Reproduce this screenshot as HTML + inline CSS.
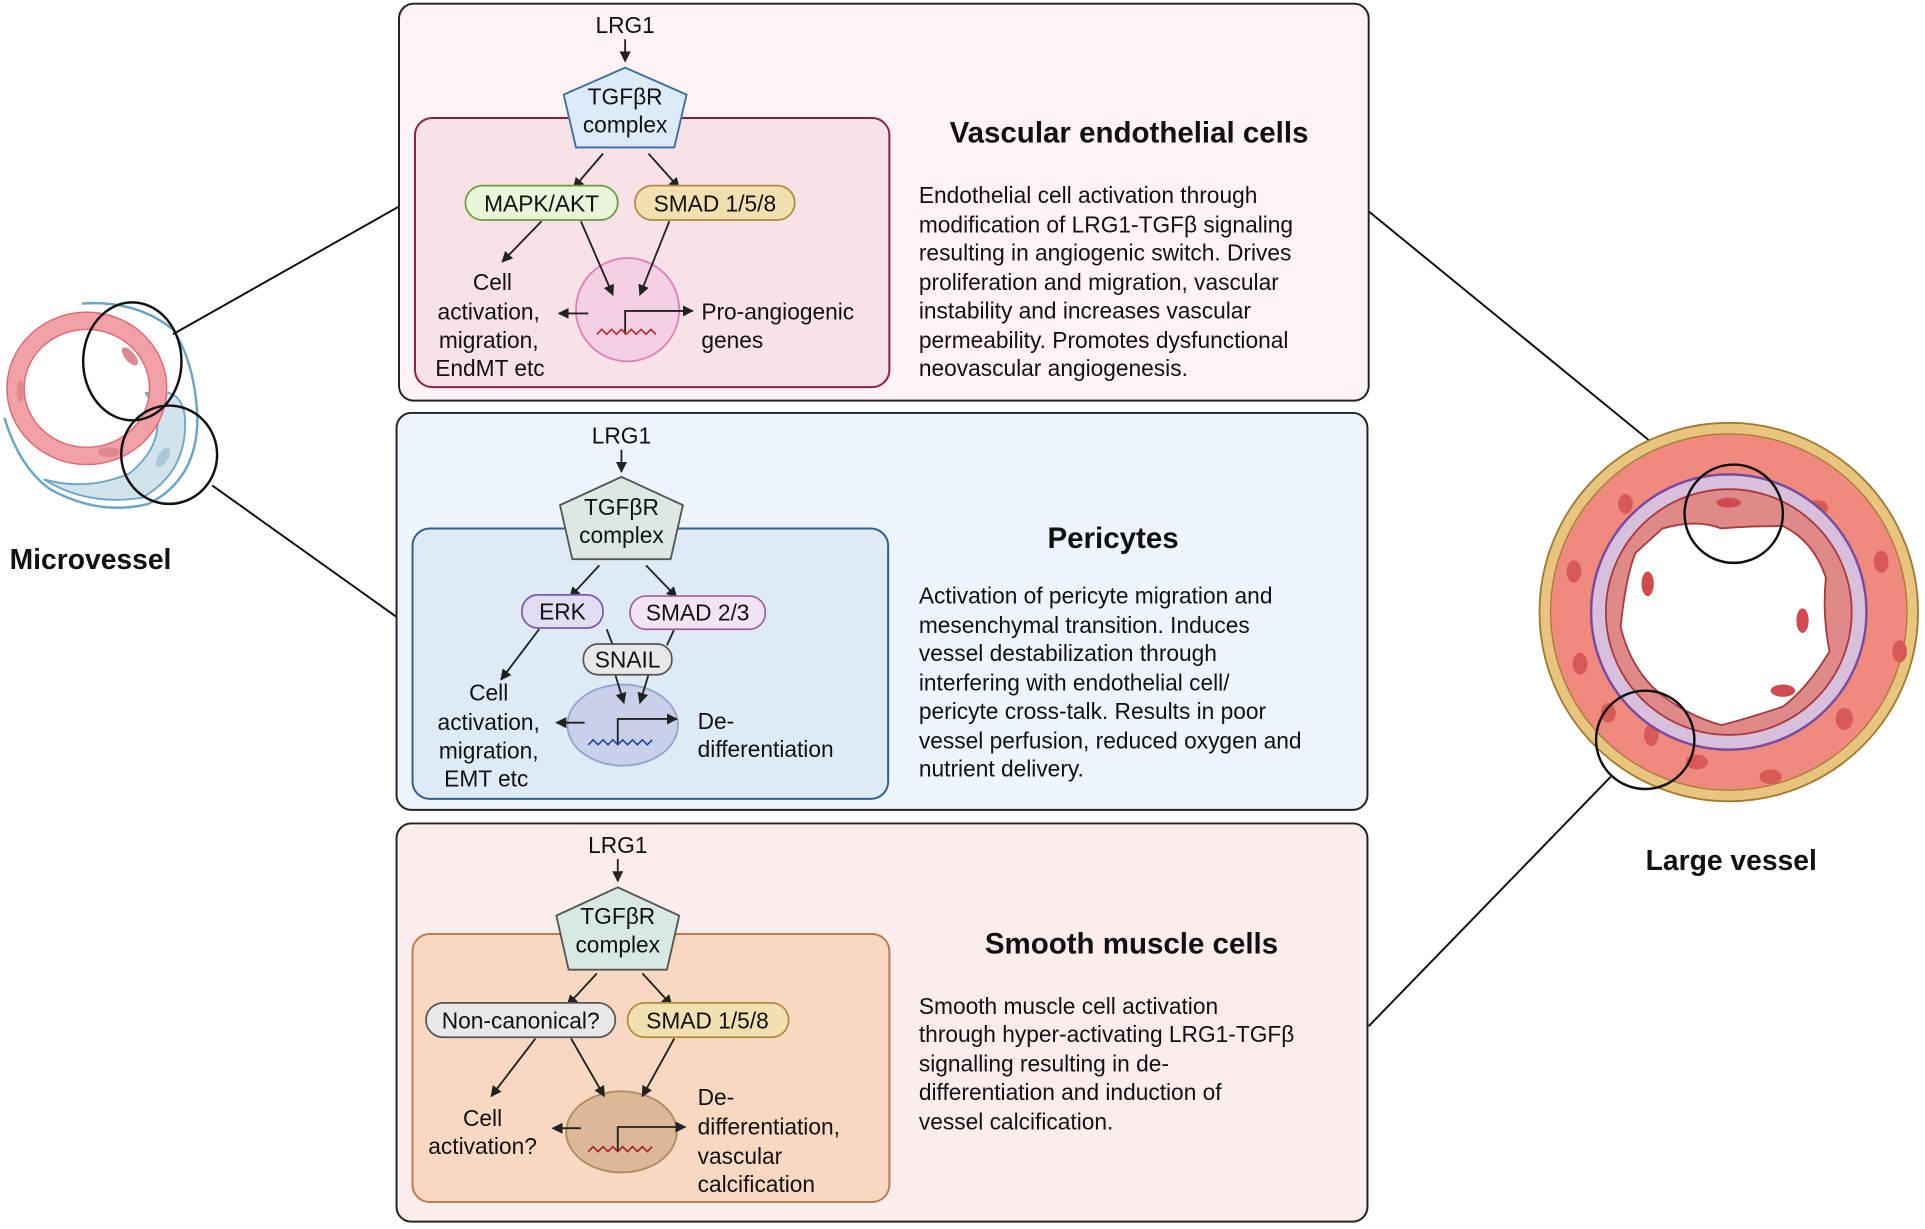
<!DOCTYPE html>
<html><head><meta charset="utf-8"><style>
html,body{margin:0;padding:0;background:#fff;}
svg{display:block;}
text{font-family:"Liberation Sans",sans-serif;fill:#111;}
.b{font-size:18.5px;}
.d{font-size:18.5px;}
.t{font-size:24px;font-weight:bold;}
</style></head><body>
<svg width="1925" height="1229" viewBox="0 0 1565 1000" xmlns="http://www.w3.org/2000/svg">
<defs>
<marker id="ah" viewBox="0 0 10 10" refX="9" refY="5" markerWidth="6" markerHeight="6" orient="auto"><path d="M0,0 L10,5 L0,10 z" fill="#222"/></marker>
</defs>

<!-- connector lines -->
<g stroke="#111" stroke-width="1.6" fill="none">
<line x1="140" y1="272" x2="324" y2="168"/>
<line x1="172" y1="395" x2="322" y2="502"/>
<line x1="1113" y1="172" x2="1380" y2="390"/>
<line x1="1113" y1="835" x2="1310" y2="632"/>
</g>

<!-- Microvessel -->
<g>
<path d="M66,247 Q110,244 140,268 Q158,295 160,340 Q160,390 120,410 Q80,420 40,398 Q15,380 3,340" fill="none" stroke="#6aa5c8" stroke-width="2"/>
<path d="M118,320 Q150,312 150,345 Q150,385 115,405 Q70,412 35,390 Q70,400 105,385 Q135,360 125,330 z" fill="#d3e3ec" stroke="#6aa5c8" stroke-width="1.5"/>
<ellipse cx="70" cy="316" rx="58" ry="55" fill="none" stroke="#f2a0a8" stroke-width="14"/>
<ellipse cx="70" cy="316" rx="65" ry="62" fill="none" stroke="#e06a70" stroke-width="1.2"/>
<ellipse cx="70" cy="316" rx="51" ry="48" fill="none" stroke="#e06a70" stroke-width="1.2"/>
<ellipse cx="105" cy="290" rx="4" ry="9" fill="#e08890" transform="rotate(-40 105 290)"/>
<ellipse cx="16" cy="318" rx="3" ry="9" fill="#e08890"/>
<ellipse cx="88" cy="368" rx="9" ry="4" fill="#e08890"/>
<ellipse cx="132" cy="372" rx="4" ry="9" fill="#a9c8da" transform="rotate(30 132 372)"/>
<ellipse cx="107" cy="294" rx="40" ry="48" fill="none" stroke="#111" stroke-width="2"/>
<ellipse cx="137" cy="370" rx="39" ry="40" fill="none" stroke="#111" stroke-width="2"/>
<text x="73" y="463" text-anchor="middle" style="font-size:23px;font-weight:bold">Microvessel</text>
</g>

<!-- Large vessel -->
<g>
<circle cx="1406" cy="498" r="154" fill="#e8c47e" stroke="#a07a30" stroke-width="1.5"/>
<circle cx="1406" cy="498" r="145" fill="#f0897e" stroke="#a07a30" stroke-width="1"/>
<g fill="#d85a55">
<ellipse cx="1478" cy="413" rx="9" ry="6"/><ellipse cx="1530" cy="457" rx="6" ry="9"/><ellipse cx="1545" cy="530" rx="6" ry="9"/>
<ellipse cx="1500" cy="585" rx="7" ry="9"/><ellipse cx="1440" cy="632" rx="9" ry="6"/><ellipse cx="1380" cy="620" rx="9" ry="6"/>
<ellipse cx="1280" cy="465" rx="6" ry="9"/><ellipse cx="1285" cy="540" rx="6" ry="9"/><ellipse cx="1322" cy="410" rx="6" ry="8"/>
<ellipse cx="1440" cy="398" rx="9" ry="6"/><ellipse cx="1343" cy="598" rx="6" ry="9"/><ellipse cx="1308" cy="580" rx="6" ry="8"/>
</g>
<circle cx="1406" cy="498" r="112" fill="#d8c0dc" stroke="#7a4aa0" stroke-width="2"/>
<circle cx="1406" cy="498" r="100" fill="#de8a88" stroke="#a83a40" stroke-width="1.5"/>
<path d="M1352,430 Q1380,422 1400,430 Q1420,428 1450,428 Q1475,440 1485,470 Q1482,500 1488,530 Q1470,560 1450,575 Q1420,585 1400,590 Q1370,582 1345,560 Q1325,540 1318,510 Q1322,470 1330,450 z" fill="#fff" stroke="#a83a40" stroke-width="1.5"/>
<ellipse cx="1406" cy="409" rx="10" ry="4" fill="#d04a50"/>
<ellipse cx="1466" cy="505" rx="5" ry="10" fill="#d04a50"/>
<ellipse cx="1450" cy="562" rx="10" ry="5" fill="#d04a50"/>
<ellipse cx="1340" cy="475" rx="5" ry="10" fill="#d04a50"/>
<circle cx="1410" cy="418" r="40" fill="none" stroke="#111" stroke-width="2"/>
<circle cx="1338" cy="602" r="40" fill="none" stroke="#111" stroke-width="2"/>
<text x="1408" y="708" text-anchor="middle" style="font-size:23px;font-weight:bold">Large vessel</text>
</g>

<!-- Panel 1 -->
<rect x="324" y="3" width="789" height="323" rx="12" fill="#fff3f5" stroke="#222" stroke-width="1.6"/>
<rect x="337" y="96" width="386" height="219" rx="14" fill="#f9e1e8" stroke="#8b2040" stroke-width="1.6"/>
<text x="508" y="27" text-anchor="middle" class="d">LRG1</text>
<line x1="508" y1="32" x2="508" y2="50" stroke="#222" stroke-width="1.5" marker-end="url(#ah)"/>
<polygon points="508,55 558,77 548,120 468,120 458,77" fill="#ddeaf7" stroke="#3a6ea5" stroke-width="1.5" stroke-linejoin="round"/>
<text x="508" y="85" text-anchor="middle" class="d">TGFβR</text>
<text x="508" y="108" text-anchor="middle" class="d">complex</text>
<circle cx="510" cy="252" r="42" fill="#f5d0e5" stroke="#e080b8" stroke-width="1.5"/>
<g stroke="#222" stroke-width="1.5" marker-end="url(#ah)">
<line x1="490" y1="125" x2="466" y2="153"/><line x1="527" y1="125" x2="552" y2="153"/>
<line x1="440" y1="180" x2="408" y2="213"/><line x1="472" y1="180" x2="498" y2="240"/><line x1="544" y1="180" x2="520" y2="240"/>
<line x1="478" y1="255" x2="454" y2="255"/>
</g>
<rect x="378" y="151" width="124" height="28" rx="14" fill="#e8f5d8" stroke="#6a9a3a" stroke-width="1.4"/>
<text x="440" y="172" text-anchor="middle" class="d">MAPK/AKT</text>
<rect x="516" y="151" width="130" height="28" rx="14" fill="#f3e0b0" stroke="#b08a40" stroke-width="1.4"/>
<text x="581" y="172" text-anchor="middle" class="d">SMAD 1/5/8</text>
<path d="M508,272 V253 H563" fill="none" stroke="#222" stroke-width="1.5" marker-end="url(#ah)"/>
<path d="M485,272 l4,-4 l4,4 l4,-4 l4,4 l4,-4 l4,4 l4,-4 l4,4 l4,-4 l4,4 l4,-4 l4,4" fill="none" stroke="#c02020" stroke-width="1.3"/>
<text x="400" y="236" text-anchor="middle" class="d">Cell</text>
<text x="397" y="260" text-anchor="middle" class="d">activation,</text>
<text x="397" y="283" text-anchor="middle" class="d">migration,</text>
<text x="398" y="306" text-anchor="middle" class="d">EndMT etc</text>
<text x="570" y="260" class="d">Pro-angiogenic</text>
<text x="570" y="283" class="d">genes</text>
<text x="918" y="116" text-anchor="middle" class="t">Vascular endothelial cells</text>
<g class="b">
<text x="747" y="165">Endothelial cell activation through</text>
<text x="747" y="189">modification of LRG1-TGFβ signaling</text>
<text x="747" y="212">resulting in angiogenic switch. Drives</text>
<text x="747" y="236">proliferation and migration, vascular</text>
<text x="747" y="259">instability and increases vascular</text>
<text x="747" y="283">permeability. Promotes dysfunctional</text>
<text x="747" y="306">neovascular angiogenesis.</text>
</g>

<!-- Panel 2 -->
<rect x="322" y="336" width="790" height="323" rx="12" fill="#eef4fb" stroke="#222" stroke-width="1.6"/>
<rect x="335" y="430" width="387" height="220" rx="14" fill="#dfeaf7" stroke="#2c5f8f" stroke-width="1.6"/>
<text x="505" y="361" text-anchor="middle" class="d">LRG1</text>
<line x1="505" y1="366" x2="505" y2="384" stroke="#222" stroke-width="1.5" marker-end="url(#ah)"/>
<polygon points="505,388 555,411 545,455 465,455 455,411" fill="#dce8e2" stroke="#555" stroke-width="1.5" stroke-linejoin="round"/>
<text x="505" y="419" text-anchor="middle" class="d">TGFβR</text>
<text x="505" y="442" text-anchor="middle" class="d">complex</text>
<ellipse cx="506" cy="590" rx="45" ry="33" fill="#c8d0ea" stroke="#8fa6d0" stroke-width="1.5"/>
<g stroke="#222" stroke-width="1.5">
<line x1="487" y1="460" x2="463" y2="486" marker-end="url(#ah)"/><line x1="525" y1="460" x2="550" y2="486" marker-end="url(#ah)"/>
<line x1="438" y1="512" x2="407" y2="553" marker-end="url(#ah)"/>
<line x1="493" y1="512" x2="498" y2="525"/><line x1="548" y1="512" x2="542" y2="525"/>
<line x1="500" y1="549" x2="507" y2="572" marker-end="url(#ah)"/><line x1="527" y1="549" x2="520" y2="572" marker-end="url(#ah)"/>
<line x1="475" y1="588" x2="452" y2="588" marker-end="url(#ah)"/>
</g>
<rect x="424" y="484" width="66" height="27" rx="13" fill="#e4dcf2" stroke="#7a5ab0" stroke-width="1.4"/>
<text x="457" y="504" text-anchor="middle" class="d">ERK</text>
<rect x="512" y="485" width="110" height="27" rx="13" fill="#f3e4f3" stroke="#a060a0" stroke-width="1.4"/>
<text x="567" y="505" text-anchor="middle" class="d">SMAD 2/3</text>
<rect x="474" y="524" width="72" height="25" rx="12" fill="#e8e8e8" stroke="#555" stroke-width="1.4"/>
<text x="510" y="543" text-anchor="middle" class="d">SNAIL</text>
<path d="M502,605 V585 H550" fill="none" stroke="#222" stroke-width="1.5" marker-end="url(#ah)"/>
<path d="M478,606 l4,-4 l4,4 l4,-4 l4,4 l4,-4 l4,4 l4,-4 l4,4 l4,-4 l4,4 l4,-4 l4,4 l4,-4" fill="none" stroke="#2040a0" stroke-width="1.3"/>
<text x="397" y="570" text-anchor="middle" class="d">Cell</text>
<text x="397" y="594" text-anchor="middle" class="d">activation,</text>
<text x="397" y="617" text-anchor="middle" class="d">migration,</text>
<text x="395" y="640" text-anchor="middle" class="d">EMT etc</text>
<text x="567" y="593" class="d">De-</text>
<text x="567" y="616" class="d">differentiation</text>
<text x="905" y="446" text-anchor="middle" class="t">Pericytes</text>
<g class="b">
<text x="747" y="491">Activation of pericyte migration and</text>
<text x="747" y="515">mesenchymal transition. Induces</text>
<text x="747" y="538">vessel destabilization through</text>
<text x="747" y="562">interfering with endothelial cell/</text>
<text x="747" y="585">pericyte cross-talk. Results in poor</text>
<text x="747" y="609">vessel perfusion, reduced oxygen and</text>
<text x="747" y="632">nutrient delivery.</text>
</g>

<!-- Panel 3 -->
<rect x="322" y="670" width="790" height="324" rx="12" fill="#fcecec" stroke="#222" stroke-width="1.6"/>
<rect x="335" y="760" width="388" height="218" rx="14" fill="#f8d8c0" stroke="#c07a50" stroke-width="1.6"/>
<text x="502" y="694" text-anchor="middle" class="d">LRG1</text>
<line x1="502" y1="699" x2="502" y2="717" stroke="#222" stroke-width="1.5" marker-end="url(#ah)"/>
<polygon points="502,722 552,745 542,789 462,789 452,745" fill="#d8e8e4" stroke="#555" stroke-width="1.5" stroke-linejoin="round"/>
<text x="502" y="752" text-anchor="middle" class="d">TGFβR</text>
<text x="502" y="775" text-anchor="middle" class="d">complex</text>
<ellipse cx="505" cy="921" rx="45" ry="33" fill="#dcb898" stroke="#b08a60" stroke-width="1.5"/>
<g stroke="#222" stroke-width="1.5" marker-end="url(#ah)">
<line x1="485" y1="792" x2="461" y2="818"/><line x1="522" y1="792" x2="546" y2="818"/>
<line x1="435" y1="845" x2="399" y2="892"/><line x1="464" y1="845" x2="491" y2="892"/><line x1="548" y1="845" x2="522" y2="892"/>
<line x1="472" y1="918" x2="449" y2="918"/>
</g>
<rect x="346" y="816" width="154" height="28" rx="14" fill="#e8e8e8" stroke="#555" stroke-width="1.4"/>
<text x="423" y="837" text-anchor="middle" class="d">Non-canonical?</text>
<rect x="510" y="816" width="131" height="28" rx="14" fill="#f3e0b0" stroke="#b08a40" stroke-width="1.4"/>
<text x="575" y="837" text-anchor="middle" class="d">SMAD 1/5/8</text>
<path d="M502,937 V917 H557" fill="none" stroke="#222" stroke-width="1.5" marker-end="url(#ah)"/>
<path d="M478,937 l4,-4 l4,4 l4,-4 l4,4 l4,-4 l4,4 l4,-4 l4,4 l4,-4 l4,4 l4,-4 l4,4 l4,-4" fill="none" stroke="#a02020" stroke-width="1.3"/>
<text x="392" y="916" text-anchor="middle" class="d">Cell</text>
<text x="392" y="939" text-anchor="middle" class="d">activation?</text>
<text x="567" y="899" class="d">De-</text>
<text x="567" y="923" class="d">differentiation,</text>
<text x="567" y="947" class="d">vascular</text>
<text x="567" y="970" class="d">calcification</text>
<text x="920" y="776" text-anchor="middle" class="t">Smooth muscle cells</text>
<g class="b">
<text x="747" y="825">Smooth muscle cell activation</text>
<text x="747" y="848">through hyper-activating LRG1-TGFβ</text>
<text x="747" y="872">signalling resulting in de-</text>
<text x="747" y="895">differentiation and induction of</text>
<text x="747" y="919">vessel calcification.</text>
</g>
</svg>
</body></html>
